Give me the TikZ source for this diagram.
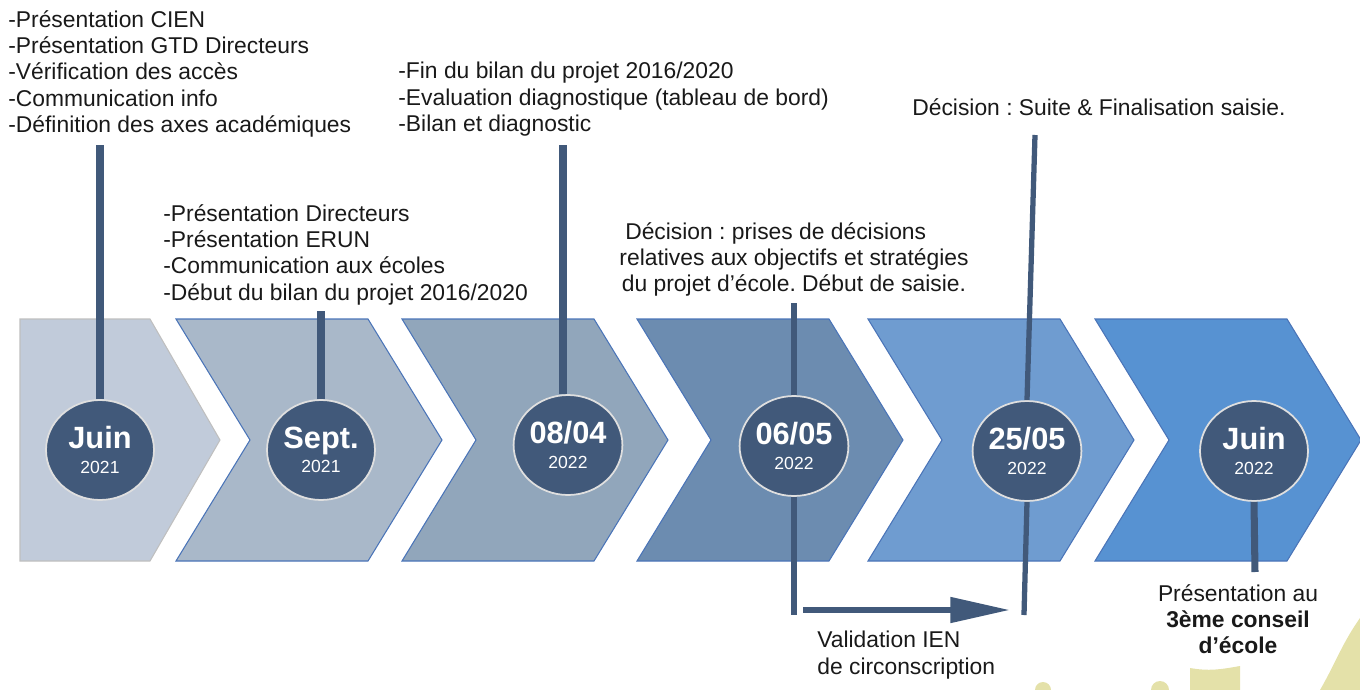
\documentclass[tikz,border=0pt]{standalone}
\usepackage{fontspec}
\setmainfont{Liberation Sans}
\usepackage{xcolor}
\usetikzlibrary{shapes,arrows,arrows.meta,positioning,calc}
\frenchspacing

\definecolor{chevA}{HTML}{C1CBDA}
\definecolor{chevB}{HTML}{A9B8C9}
\definecolor{chevC}{HTML}{91A6BB}
\definecolor{chevD}{HTML}{6C8CB0}
\definecolor{chevE}{HTML}{6F9CD0}
\definecolor{chevF}{HTML}{5792D2}
\definecolor{edgeblue}{HTML}{4A74B8}
\definecolor{dateblue}{HTML}{41597A}
\definecolor{deco}{HTML}{E4E1A9}

\tikzset{
  datecircle/.style={ellipse, fill=dateblue, draw=gray!25, line width=1pt,
    minimum width=2.16cm, minimum height=2cm, inner sep=0pt, text=white, align=center},
  note/.style={inner sep=0pt, text=black!90, font=\fontsize{13}{15}\selectfont},
  stem/.style={draw=dateblue, line width=4pt},
  thinstem/.style={draw=dateblue, line width=3pt},
}

\newcommand{\datetext}[2]{{\fontsize{17.5}{19}\selectfont\bfseries #1}\\[2pt]{\fontsize{10}{11}\selectfont #2}}

\begin{document}
\begin{tikzpicture}[x=0.02cm, y=-0.02cm]
    \useasboundingbox (0,0) rectangle (1360,690);

    % Background decoration
    \fill[deco] (1190,690) -- (1190,668) to[out=-10,in=190] (1240,666) -- (1240,690) -- cycle;
    \fill[deco] (1160,690) circle (9);
    \fill[deco] (1043,690) circle (8);
    \fill[deco] (1320,690) to[out=60,in=235] (1360,618) -- (1360,690) -- cycle;

    % Chevrons
    \draw[fill=chevA, draw=gray!50, line width=0.6pt] (20,319) -- (150,319) -- (220,440) -- (150,561) -- (20,561) -- cycle;
    \foreach \x/\c in {176/chevB, 402/chevC, 637/chevD, 868/chevE, 1095/chevF} {
        \draw[fill=\c, draw=edgeblue, line width=0.6pt] (\x,319) -- ++(192,0) -- ++(74,121)
            -- ++(-74,121) -- ++(-192,0) -- ++(74,-121) -- cycle;
    }

    % Dates
    \node[datecircle] (d1) at (100,450) {\datetext{Juin}{2021}};
    \node[datecircle] (d2) at (321,450) {\datetext{Sept.}{2021}};
    \node[datecircle] (d3) at (568,445) {\datetext{08/04}{2022}};
    \node[datecircle] (d4) at (794,446) {\datetext{06/05}{2022}};
    \node[datecircle] (d5) at (1027,451) {\datetext{25/05}{2022}};
    \node[datecircle] (d6) at (1254,451) {\datetext{Juin}{2022}};

    % Notes
    \node[note, align=left, anchor=north west] (n1) at (8,10)
        {-Présentation CIEN\\-Présentation GTD Directeurs\\-Vérification des accès\\-Communication info\\-Définition des axes académiques};
    \node[note, align=left, anchor=north west] (n2) at (163,204)
        {-Présentation Directeurs\\-Présentation ERUN\\-Communication aux écoles\\-Début du bilan du projet 2016/2020};
    \node[note, align=left, anchor=north west] (n3) at (398,62)
        {-Fin du bilan du projet 2016/2020\\-Evaluation diagnostique (tableau de bord)\\-Bilan et diagnostic};
    \node[note, align=center, anchor=north] (n4) at (794,222)
        {Décision : prises de décisions\hspace*{1.6em}\\relatives aux objectifs et stratégies\\du projet d’école. Début de saisie.};
    \node[note, align=left, anchor=north west] (n5) at (912,98)
        {Décision : Suite \& Finalisation saisie.};
    \node[note, align=center, anchor=north] (n6) at (1238,584)
        {Présentation au\\\textbf{3ème conseil}\\\textbf{d’école}};
    \node[note, align=left, anchor=north west] (n7) at (817,631)
        {Validation IEN\\de circonscription};

    % Stems
    \coordinate (t1) at (100,145);
    \coordinate (t2) at (321,311);
    \coordinate (t3) at (563,145);
    \coordinate (t4) at (794,303);
    \coordinate (b4) at (794,615);
    \coordinate (t5) at (1035,135);
    \coordinate (b5) at (1024,615);
    \coordinate (b6) at (1255,572);
    \draw[stem] (t1) -- (d1.north);
    \draw[stem] (t2) -- (d2.north);
    \draw[stem] (t3) -- (t3 |- d3.north);
    \draw[thinstem] (t4) -- (d4.north);
    \draw[thinstem] (d4.south) -- (b4);
    \draw[thinstem] (t5) -- (d5.north);
    \draw[thinstem] (d5.south) -- (b5);
    \draw[stem] (d6.south) -- (b6);

    % Validation arrow
    \coordinate (a1) at (803,610);
    \coordinate (a2) at (1010,610);
    \draw[dateblue, line width=3.5pt, -{Triangle[length=34pt, width=14pt]}] (a1) -- (a2);
\end{tikzpicture}
\end{document}
